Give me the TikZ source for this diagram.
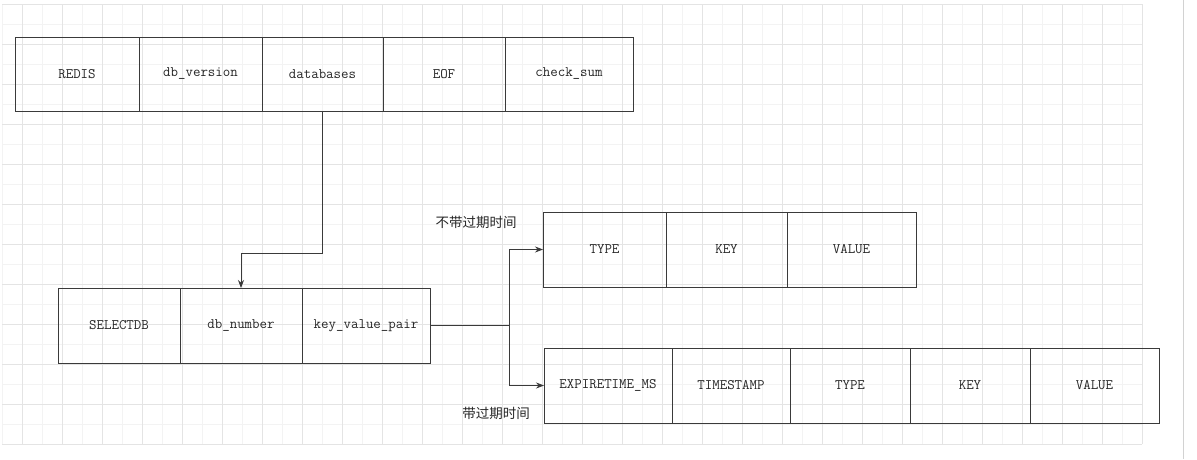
\documentclass[tikz,border=0pt]{standalone}
\usepackage{fontspec}
\usepackage{tikz}
\usetikzlibrary{positioning,arrows.meta}
\newfontfamily\cjk{Noto Sans CJK SC}

\begin{document}
\begin{tikzpicture}[x=1pt,y=-1pt,
  cella/.style={draw=lineGray, line width=0.8pt, rectangle, inner sep=0pt, outer sep=0pt,
    minimum height=75pt, text=black!85, font=\ttfamily\fontsize{14.5}{17}\selectfont},
  freccia/.style={draw=lineGray, line width=0.8pt, -{Stealth[length=8pt,width=6pt]}},
  nota/.style={font=\cjk\fontsize{13.5}{15}\selectfont, text=black!85}]

% Colori
\definecolor{lineGray}{HTML}{3A3A3A}
\definecolor{gridMinor}{HTML}{F3F3F3}
\definecolor{gridMajor}{HTML}{E4E4E4}

% Area e griglia di sfondo
\useasboundingbox (0,0) rectangle (1197,459);
\fill[white] (0,0) rectangle (1197,459);
\foreach \gx in {2,22,...,1142} {\draw[gridMinor, line width=0.6pt] (\gx,4) -- (\gx,444);}
\foreach \gy in {4,24,...,444} {\draw[gridMinor, line width=0.6pt] (2,\gy) -- (1142,\gy);}
\foreach \gx in {22,62,...,1142} {\draw[gridMajor, line width=0.6pt] (\gx,4) -- (\gx,444);}
\foreach \gy in {4,44,...,444} {\draw[gridMajor, line width=0.6pt] (2,\gy) -- (1142,\gy);}
\draw[gray!35, line width=1pt] (1183,0) -- (1183,459);

% Struttura del file RDB
\node[cella, minimum width=124pt, minimum height=74pt, anchor=north west] (redis) at (15,37) {REDIS};
\node[cella, minimum width=123pt, minimum height=74pt, right=0pt of redis] (dbver) {db\_version};
\node[cella, minimum width=121pt, minimum height=74pt, right=0pt of dbver] (databases) {databases};
\node[cella, minimum width=122pt, minimum height=74pt, right=0pt of databases] (eof) {EOF};
\node[cella, minimum width=128pt, minimum height=74pt, right=0pt of eof] (checksum) {check\_sum};

% Database
\node[cella, minimum width=122pt, anchor=north west] (selectdb) at (58,288) {SELECTDB};
\node[cella, minimum width=122pt, right=0pt of selectdb] (dbnum) {db\_number};
\node[cella, minimum width=128pt, right=0pt of dbnum] (kvpair) {key\_value\_pair};

% Coppia senza scadenza
\node[cella, minimum width=123pt, anchor=north west] (typeA) at (543,212) {TYPE};
\node[cella, minimum width=121pt, right=0pt of typeA] (keyA) {KEY};
\node[cella, minimum width=129pt, right=0pt of keyA] (valueA) {VALUE};

% Coppia con scadenza
\node[cella, minimum width=128pt, anchor=north west] (expire) at (544,348) {EXPIRETIME\_MS};
\node[cella, minimum width=118pt, right=0pt of expire] (tstamp) {TIMESTAMP};
\node[cella, minimum width=120pt, right=0pt of tstamp] (typeB) {TYPE};
\node[cella, minimum width=120pt, right=0pt of typeB] (keyB) {KEY};
\node[cella, minimum width=129pt, right=0pt of keyB] (valueB) {VALUE};

% Etichette
\node[nota] (senza) at (476,222) {不带过期时间};
\node[nota] (con) at (496,413) {带过期时间};

% Collegamenti
\coordinate (gomito) at (databases.south |- 0,253);
\draw[freccia] (databases.south) -- (gomito) -| (dbnum.north);
\coordinate (bivio) at (509,0 |- kvpair.east);
\draw[draw=lineGray, line width=0.8pt] (kvpair.east) -- (bivio);
\draw[freccia] (bivio) |- (typeA.west);
\draw[freccia] (bivio) |- (expire.west);

\end{tikzpicture}
\end{document}
